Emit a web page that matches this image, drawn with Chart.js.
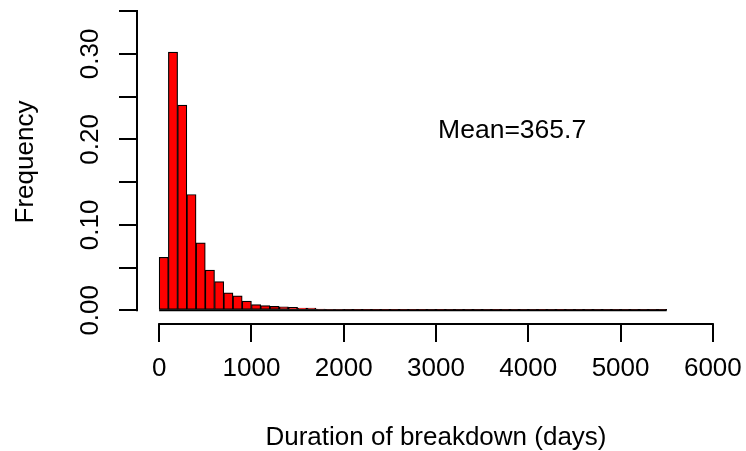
<!DOCTYPE html>
<html><head><meta charset="utf-8">
<script src="https://cdn.jsdelivr.net/npm/chart.js@4.4.0/dist/chart.umd.min.js"></script>
<style>html,body{margin:0;padding:0;background:#fff}#wrap{width:746px;height:451px}</style>
</head><body><div id="wrap"><canvas id="c" width="746" height="451"></canvas></div>
<script>
// Histogram bins (left edge of each 100-day bin)
const binLeft = [0,100,200,300,400,500,600,700,800,900,1000,1100,1200,1300,1400,1500,1600,1700,1800,1900,
  2000,2100,2200,2300,2400,2500,2600,2700,2800,2900,3000,3100,3200,3300,3400,3500,3600,3700,3800,3900,
  4000,4100,4200,4300,4400,4500,4600,4700,4800,4900,5000,5100,5200,5300,5400];
const binWidth = 100;
const frequency = [0.062,0.302,0.240,0.1355,0.079,0.047,0.0335,0.0205,0.017,0.0108,0.0068,0.0056,0.0047,0.0042,0.0034,0.0027,0.0025,0.0015,0.0012,0.0010,
  0.0008,0.0006,0.0009,0.0005,0.0004,0.0003,0.0004,0.0003,0.0003,0.0002,0.0003,0.0002,0.0007,0.0002,0.0007,0.0008,0.0008,0.0002,0.0001,0.0007,
  0.0001,0.0006,0.0001,0.0006,0.0001,0.0001,0.0001,0.0001,0.0001,0.0001,0.0001,0.0001,0.0001,0.0001,0.0001];
const xTicks = [0,1000,2000,3000,4000,5000,6000];
const yTicks = [0,0.05,0.10,0.15,0.20,0.25,0.30,0.35];
const yLabelValues = [0,0.10,0.20,0.30];
const yLabels = ['0.00','0.10','0.20','0.30'];
const xTitle = 'Duration of breakdown (days)';
const yTitle = 'Frequency';
const meanText = 'Mean=365.7';
const meanPos = {x:3825, y:0.21};

const FONT = '"Liberation Sans", Arial, sans-serif';

const rPlugin = {
  id:'rstyle',
  afterDraw(chart){
    const {ctx, chartArea, scales:{x,y}} = chart;
    ctx.save();
    ctx.strokeStyle='#000'; ctx.lineWidth=2; ctx.lineCap='butt';
    ctx.beginPath();
    ctx.moveTo(chartArea.left, y.getPixelForValue(yTicks[0])+1);
    ctx.lineTo(chartArea.left, y.getPixelForValue(yTicks[yTicks.length-1])-1);
    ctx.stroke();
    ctx.beginPath();
    ctx.moveTo(x.getPixelForValue(xTicks[0])-1, chartArea.bottom);
    ctx.lineTo(x.getPixelForValue(xTicks[xTicks.length-1])+1, chartArea.bottom);
    ctx.stroke();
    ctx.fillStyle='#000';
    ctx.font='26px '+FONT;
    ctx.textAlign='center'; ctx.textBaseline='middle';
    yLabelValues.forEach((v,i)=>{
      ctx.save();
      ctx.translate(chartArea.left-46, y.getPixelForValue(v));
      ctx.rotate(-Math.PI/2);
      ctx.fillText(yLabels[i],0,0);
      ctx.restore();
    });
    ctx.font='26.5px '+FONT;
    ctx.fillText(meanText, x.getPixelForValue(meanPos.x), y.getPixelForValue(meanPos.y));
    ctx.restore();
  }
};

new Chart(document.getElementById('c'), {
  type:'bar',
  data:{
    datasets:[
      {
        type:'line',
        data:[{x:binLeft[0], y:0},{x:binLeft[binLeft.length-1]+binWidth, y:0}],
        borderColor:'#000', borderWidth:2, pointRadius:0, order:0
      },
      {
        type:'bar',
        data: binLeft.map((b,i)=>({x:b+binWidth/2, y:frequency[i]})),
        backgroundColor:'#ff0000', borderColor:'#000', borderWidth:1.2, borderSkipped:false,
        barPercentage:1, categoryPercentage:1, order:1
      }
    ]
  },
  options:{
    responsive:false, animation:false, devicePixelRatio:1,
    layout:{padding:{left:0,right:11,top:0,bottom:0}},
    plugins:{legend:{display:false}, tooltip:{enabled:false}},
    scales:{
      x:{
        type:'linear', min:-240, max:6240, offset:false, bounds:'data',
        afterBuildTicks:s=>{ s.ticks = xTicks.map(v=>({value:v})); },
        afterFit:s=>{ s.height = 127; s.paddingLeft = 0; s.paddingRight = 0; },
        grid:{offset:false, drawOnChartArea:false, drawTicks:true, tickLength:18, color:'#000', lineWidth:2},
        border:{display:false},
        ticks:{font:{family:FONT, size:26}, color:'#000', padding:11, maxRotation:0, autoSkip:false, callback:v=>String(v)},
        title:{display:true, text:xTitle, color:'#000', font:{family:FONT, size:26, lineHeight:1}, padding:{top:1,bottom:0}}
      },
      y:{
        type:'linear', min:-0.016, max:0.363, bounds:'data',
        afterBuildTicks:s=>{ s.ticks = yTicks.map(v=>({value:v})); },
        afterFit:s=>{ s.width = 137; s.paddingTop = 0; s.paddingBottom = 0; },
        grid:{drawOnChartArea:false, drawTicks:true, tickLength:18, color:'#000', lineWidth:2},
        border:{display:false},
        ticks:{display:false},
        title:{display:true, text:yTitle, color:'#000', font:{family:FONT, size:26, lineHeight:1.2}, padding:{top:10,bottom:0}}
      }
    }
  },
  plugins:[rPlugin]
});
</script></body></html>
